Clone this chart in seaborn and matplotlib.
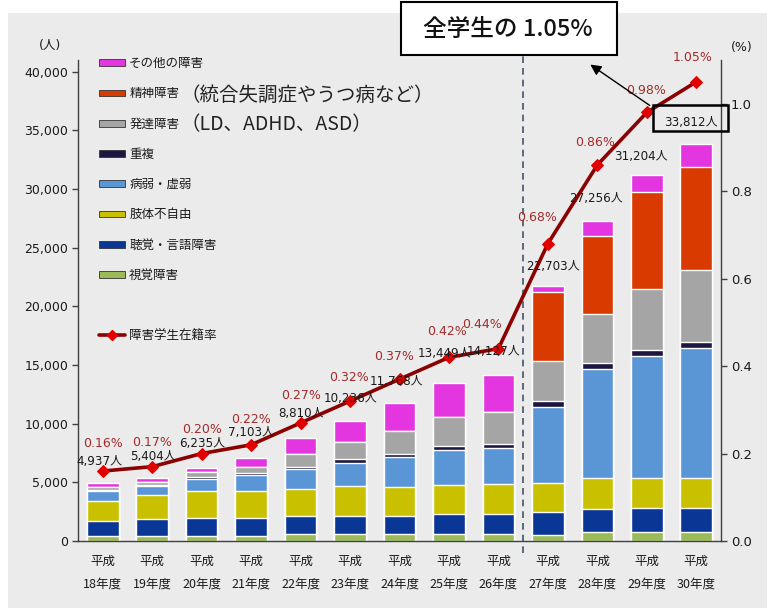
import matplotlib
matplotlib.use("Agg")
import matplotlib.pyplot as plt
import seaborn as sns
import numpy as np
import pandas as pd
from matplotlib.patches import Patch, Rectangle
from matplotlib.lines import Line2D
from matplotlib.font_manager import FontProperties

# ---------------- data ----------------
years = ["平成\n18年度", "平成\n19年度", "平成\n20年度", "平成\n21年度", "平成\n22年度",
         "平成\n23年度", "平成\n24年度", "平成\n25年度", "平成\n26年度", "平成\n27年度",
         "平成\n28年度", "平成\n29年度", "平成\n30年度"]
visual = [430, 450, 450, 450, 555, 570, 570, 570, 570, 510, 770, 770, 770]
hearing = [1280, 1420, 1535, 1535, 1580, 1590, 1590, 1705, 1705, 1920, 1920, 2005, 2005]
physical = [1720, 2020, 2250, 2300, 2330, 2560, 2430, 2470, 2590, 2520, 2640, 2560, 2560]
illness = [790, 780, 1070, 1380, 1640, 1950, 2530, 2990, 3100, 6430, 9320, 10420, 11120]
multiple = [150, 120, 170, 100, 230, 320, 290, 360, 280, 580, 510, 505, 495]
develop = [250, 230, 380, 560, 1070, 1450, 1930, 2440, 2780, 3360, 4190, 5210, 6160]
mental = [0, 0, 0, 0, 0, 0, 0, 0, 0, 5910, 6690, 8300, 8810]
other = [317, 384, 380, 778, 1405, 1796, 2428, 2919, 3102, 473, 1216, 1434, 1887]
rate = [0.16, 0.17, 0.20, 0.22, 0.27, 0.32, 0.37, 0.42, 0.44, 0.68, 0.86, 0.98, 1.05]
totals = [4937, 5404, 6235, 7103, 8810, 10236, 11768, 13449, 14127, 21703, 27256, 31204, 33812]

seg_names = ["視覚障害", "聴覚・言語障害", "肢体不自由", "病弱・虚弱", "重複",
             "発達障害", "精神障害", "その他の障害"]
seg_values = [visual, hearing, physical, illness, multiple, develop, mental, other]
seg_colors = ["#9bbb59", "#0a3796", "#c9c100", "#5a96d6", "#1c1640",
              "#a5a5a5", "#d93a00", "#e436e0"]
legend_labels = ["その他の障害", "精神障害", "発達障害", "重複", "病弱・虚弱",
                 "肢体不自由", "聴覚・言語障害", "視覚障害", "", "障害学生在籍率"]
extra_labels = {1: "（統合失調症やうつ病など）", 2: "（LD、ADHD、ASD）"}

df = pd.DataFrame({"year": years})
for n, v in zip(seg_names, seg_values):
    df[n] = v
cum = df[seg_names].cumsum(axis=1)
cum["year"] = years

# ---------------- style ----------------
sns.set_theme(style="white")
plt.rcParams["font.family"] = ["DejaVu Sans", "Noto Sans CJK JP"]
CJK = "Noto Sans CJK JP"
W, H = 772, 608

fig = plt.figure(figsize=(W / 100, H / 100), dpi=100)
fig.patch.set_facecolor("white")
fig.add_artist(Rectangle((8 / W, 0), (767 - 8) / W, (H - 13) / H,
                         transform=fig.transFigure, facecolor="#ebebeb",
                         edgecolor="none", zorder=-10))

ax = fig.add_axes([78 / W, 67 / H, 643 / W, 481 / H])
ax.set_facecolor("none")

for k in reversed(range(len(seg_names))):
    sns.barplot(data=cum, x="year", y=seg_names[k],
                color=seg_colors[k], saturation=1, width=0.64,
                edgecolor="white", linewidth=1.0, errorbar=None, ax=ax)

ax.set_xlim(-0.5, len(years) - 0.5)
ax.set_ylim(0, 41000)
ax.set_xlabel("")
ax.set_ylabel("")
ax.set_yticks(np.arange(0, 40001, 5000))
ax.set_yticklabels([f"{v:,}" for v in range(0, 40001, 5000)], fontsize=9, color="#1a1a1a")
ax.set_xticks(range(len(years)))
ax.set_xticklabels(years, fontsize=9, family=CJK, linespacing=2.0, color="#1a1a1a")
ax.set_xticks(np.arange(-0.5, len(years), 1), minor=True)
ax.tick_params(axis="x", which="major", length=0, pad=10)
ax.tick_params(axis="x", which="minor", length=5, width=1, color="#404040", direction="out")
ax.tick_params(axis="y", length=4, width=1, color="#404040", direction="out", pad=3, left=True)
for s in ["top", "right"]:
    ax.spines[s].set_visible(False)
for s in ["left", "bottom"]:
    ax.spines[s].set_color("#404040")
    ax.spines[s].set_linewidth(1)

# separator line between H26 and H27
ax.axvline(8.5, ymin=-0.025, ymax=1.01, color="#44546a", lw=1.2,
           ls=(0, (4, 3)), clip_on=False, zorder=1)

# ---------------- rate line ----------------
ax2 = ax.twinx()
ax2.set_position(ax.get_position())
sns.lineplot(x=np.arange(len(years)), y=rate, ax=ax2, color="#8b0000", lw=2.6,
             marker="D", markersize=6, markerfacecolor="#e00000",
             markeredgecolor="#e00000", zorder=5)
ax2.set_ylim(0, 1.1)
ax2.set_xlim(-0.5, len(years) - 0.5)
ax2.set_yticks(np.arange(0, 1.01, 0.2))
ax2.set_yticklabels([f"{v:.1f}" for v in np.arange(0, 1.01, 0.2)], fontsize=9.5, color="#1a1a1a")
ax2.tick_params(axis="y", length=4, width=1, color="#404040", direction="out", pad=3, right=True)
for s in ["top", "left", "bottom"]:
    ax2.spines[s].set_visible(False)
ax2.spines["right"].set_color("#404040")
ax2.spines["right"].set_linewidth(1)
ax2.set_ylabel("")

pct_off = [(0, 28), (0, 24), (0, 24), (0, 25), (0, 27), (-1, 24), (-5, 23), (-2, 26),
           (-16, 24), (-11, 26), (-2, 22), (-1, 22), (-4, 24)]
tot_off = [(-3, 10), (1, 10), (0, 10), (0, 12), (0, 9), (0, 3), (-3, -2), (-5, 4),
           (-5, -3), (5, -23), (-1, -34), (-6, -44), (-5, -41)]
for i in range(len(years)):
    ax2.annotate(f"{rate[i]:.2f}%", (i, rate[i]), xytext=pct_off[i],
                 textcoords="offset pixels", ha="center", va="center",
                 fontsize=9, color="#a52a2a", zorder=6)
    ax2.annotate(f"{totals[i]:,}人", (i, rate[i]), xytext=tot_off[i],
                 textcoords="offset pixels", ha="center", va="center",
                 fontsize=8.6, color="#1a1a1a", zorder=6)

# ---------------- legend ----------------
handles = [Patch(facecolor=seg_colors[k], edgecolor="#333333", lw=0.6)
           for k in reversed(range(len(seg_names)))]
handles.append(Patch(alpha=0))
handles.append(Line2D([], [], color="#8b0000", lw=2.6, marker="D", ms=5,
                      mfc="#e00000", mec="#e00000"))
leg = ax2.legend(handles, legend_labels, loc="upper left",
                 bbox_to_anchor=(0.033, 1.006), frameon=False,
                 prop=FontProperties(family=CJK, size=9),
                 handlelength=2.1, handleheight=0.45, handletextpad=0.3,
                 labelspacing=1.38, borderpad=0, borderaxespad=0)
for t in leg.get_texts():
    t.set_color("#1a1a1a")

# side texts
fig.text(50 / W, 1 - 45 / H, "(人)", ha="center", va="center", fontsize=9,
         family=["DejaVu Sans", CJK], color="#1a1a1a")
fig.text(742 / W, 1 - 47 / H, "(%)", ha="center", va="center", fontsize=9, color="#1a1a1a")

# callout box
fig.add_artist(Rectangle((401 / W, 1 - 55 / H), 216 / W, 53 / H, transform=fig.transFigure,
                         facecolor="white", edgecolor="black", lw=1.5, zorder=20))
fig.text(508 / W, 1 - 29 / H, "全学生の 1.05%", ha="center", va="center", fontsize=17,
         family=[CJK], weight="medium", color="#111111", zorder=21)
fig.add_artist(Rectangle((653 / W, 1 - 131 / H), 75 / W, 26 / H, transform=fig.transFigure,
                         facecolor="none", edgecolor="black", lw=1.8, zorder=20))
ax2.annotate("", xy=(588, H - 63), xycoords="figure pixels",
             xytext=(652, H - 107), textcoords="figure pixels",
             arrowprops=dict(arrowstyle="-|>", color="black", lw=1.0, mutation_scale=16),
             zorder=20, annotation_clip=False)

# parenthetical legend extensions
fig.canvas.draw()
for idx, txt in extra_labels.items():
    bb = leg.get_texts()[idx].get_window_extent()
    fig.text((bb.x1 + 1) / W, (bb.y0 + bb.y1) / 2 / H - 1 / H, txt, ha="left", va="center",
             fontsize=14, family=[CJK], color="#222222")

fig.savefig("out.png", dpi=100)
